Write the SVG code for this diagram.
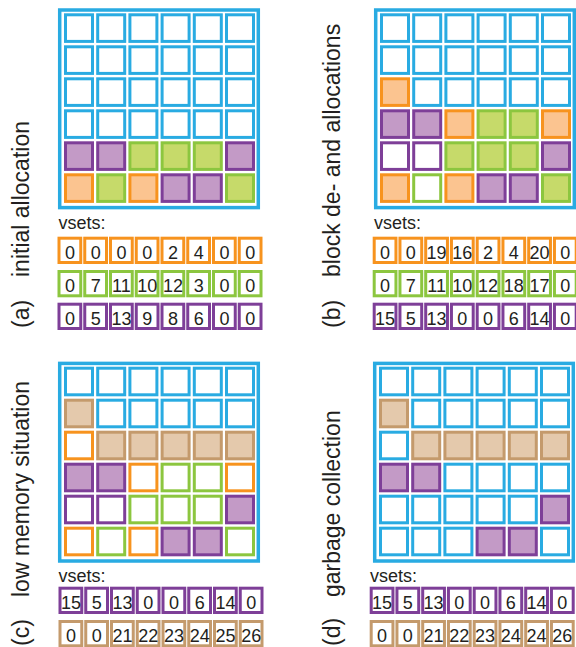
<svg xmlns="http://www.w3.org/2000/svg" width="576" height="647" viewBox="0 0 576 647">
<style>
rect{stroke-width:3}
.frame{fill:none;stroke:#29ABE2;stroke-width:3.5}
.bl{fill:#fff;stroke:#29ABE2}
.of{fill:#FBC490;stroke:#F7931E}
.oe{fill:#fff;stroke:#F7931E}
.gf{fill:#C6DA6A;stroke:#8CC63F}
.ge{fill:#fff;stroke:#8CC63F}
.pf{fill:#C39AC6;stroke:#7E3F98}
.pe{fill:#fff;stroke:#7E3F98}
.nf{fill:#E4C9AC;stroke:#C49A6C}
.ne{fill:#fff;stroke:#C49A6C}
text{font-family:"Liberation Sans",Arial,sans-serif;fill:#231F20}
.lab{font-size:23px}
.vs{font-size:18px}
.n{font-size:18px;text-anchor:middle}
</style>
<defs>
<rect id="c" width="27" height="26.6"/>
<rect id="v" width="21.75" height="24.3"/>
</defs>

<!-- Panel (a) -->
<g id="panel-a">
<text class="lab" transform="translate(28.5,328) rotate(-90)">(a)</text>
<text class="lab" transform="translate(28.5,277) rotate(-90)">initial allocation</text>
<g id="grid-a">
<rect class="frame" x="59.7" y="10" width="198.6" height="197.6"/>
<g transform="translate(0,14.8)"><use href="#c" x="65.5" class="bl"/><use href="#c" x="97.7" class="bl"/><use href="#c" x="129.9" class="bl"/><use href="#c" x="162.1" class="bl"/><use href="#c" x="194.3" class="bl"/><use href="#c" x="226.5" class="bl"/></g>
<g transform="translate(0,46.8)"><use href="#c" x="65.5" class="bl"/><use href="#c" x="97.7" class="bl"/><use href="#c" x="129.9" class="bl"/><use href="#c" x="162.1" class="bl"/><use href="#c" x="194.3" class="bl"/><use href="#c" x="226.5" class="bl"/></g>
<g transform="translate(0,78.8)"><use href="#c" x="65.5" class="bl"/><use href="#c" x="97.7" class="bl"/><use href="#c" x="129.9" class="bl"/><use href="#c" x="162.1" class="bl"/><use href="#c" x="194.3" class="bl"/><use href="#c" x="226.5" class="bl"/></g>
<g transform="translate(0,110.8)"><use href="#c" x="65.5" class="bl"/><use href="#c" x="97.7" class="bl"/><use href="#c" x="129.9" class="bl"/><use href="#c" x="162.1" class="bl"/><use href="#c" x="194.3" class="bl"/><use href="#c" x="226.5" class="bl"/></g>
<g transform="translate(0,142.8)"><use href="#c" x="65.5" class="pf"/><use href="#c" x="97.7" class="pf"/><use href="#c" x="129.9" class="gf"/><use href="#c" x="162.1" class="gf"/><use href="#c" x="194.3" class="gf"/><use href="#c" x="226.5" class="pf"/></g>
<g transform="translate(0,174.8)"><use href="#c" x="65.5" class="of"/><use href="#c" x="97.7" class="gf"/><use href="#c" x="129.9" class="of"/><use href="#c" x="162.1" class="pf"/><use href="#c" x="194.3" class="pf"/><use href="#c" x="226.5" class="gf"/></g>
</g>
<g id="vsets-a">
<text class="vs" x="58.5" y="228.5">vsets:</text>
<g transform="translate(57.5,236.7)"><use href="#v" x="1.5" y="1.5" class="oe"/><use href="#v" x="27.25" y="1.5" class="oe"/><use href="#v" x="53" y="1.5" class="oe"/><use href="#v" x="78.75" y="1.5" class="oe"/><use href="#v" x="104.5" y="1.5" class="oe"/><use href="#v" x="130.25" y="1.5" class="oe"/><use href="#v" x="156" y="1.5" class="oe"/><use href="#v" x="181.75" y="1.5" class="oe"/>
<text class="n" y="22"><tspan x="12.4">0</tspan><tspan x="38.15">0</tspan><tspan x="63.9">0</tspan><tspan x="89.65">0</tspan><tspan x="115.4">2</tspan><tspan x="141.15">4</tspan><tspan x="166.9">0</tspan><tspan x="192.65">0</tspan></text></g>
<g transform="translate(57.5,270)"><use href="#v" x="1.5" y="1.5" class="ge"/><use href="#v" x="27.25" y="1.5" class="ge"/><use href="#v" x="53" y="1.5" class="ge"/><use href="#v" x="78.75" y="1.5" class="ge"/><use href="#v" x="104.5" y="1.5" class="ge"/><use href="#v" x="130.25" y="1.5" class="ge"/><use href="#v" x="156" y="1.5" class="ge"/><use href="#v" x="181.75" y="1.5" class="ge"/>
<text class="n" y="22"><tspan x="12.4">0</tspan><tspan x="38.15">7</tspan><tspan x="63.9">11</tspan><tspan x="89.65">10</tspan><tspan x="115.4">12</tspan><tspan x="141.15">3</tspan><tspan x="166.9">0</tspan><tspan x="192.65">0</tspan></text></g>
<g transform="translate(57.5,302.7)"><use href="#v" x="1.5" y="1.5" class="pe"/><use href="#v" x="27.25" y="1.5" class="pe"/><use href="#v" x="53" y="1.5" class="pe"/><use href="#v" x="78.75" y="1.5" class="pe"/><use href="#v" x="104.5" y="1.5" class="pe"/><use href="#v" x="130.25" y="1.5" class="pe"/><use href="#v" x="156" y="1.5" class="pe"/><use href="#v" x="181.75" y="1.5" class="pe"/>
<text class="n" y="22"><tspan x="12.4">0</tspan><tspan x="38.15">5</tspan><tspan x="63.9">13</tspan><tspan x="89.65">9</tspan><tspan x="115.4">8</tspan><tspan x="141.15">6</tspan><tspan x="166.9">0</tspan><tspan x="192.65">0</tspan></text></g>
</g>
</g>

<!-- Panel (b) -->
<g id="panel-b">
<text class="lab" transform="translate(339.5,328) rotate(-90)">(b)</text>
<text class="lab" transform="translate(339.5,277) rotate(-90)">block de- and allocations</text>
<g id="grid-b" transform="translate(316,0)">
<rect class="frame" x="59.7" y="10" width="198.6" height="197.6"/>
<g transform="translate(0,14.8)"><use href="#c" x="65.5" class="bl"/><use href="#c" x="97.7" class="bl"/><use href="#c" x="129.9" class="bl"/><use href="#c" x="162.1" class="bl"/><use href="#c" x="194.3" class="bl"/><use href="#c" x="226.5" class="bl"/></g>
<g transform="translate(0,46.8)"><use href="#c" x="65.5" class="bl"/><use href="#c" x="97.7" class="bl"/><use href="#c" x="129.9" class="bl"/><use href="#c" x="162.1" class="bl"/><use href="#c" x="194.3" class="bl"/><use href="#c" x="226.5" class="bl"/></g>
<g transform="translate(0,78.8)"><use href="#c" x="65.5" class="of"/><use href="#c" x="97.7" class="bl"/><use href="#c" x="129.9" class="bl"/><use href="#c" x="162.1" class="bl"/><use href="#c" x="194.3" class="bl"/><use href="#c" x="226.5" class="bl"/></g>
<g transform="translate(0,110.8)"><use href="#c" x="65.5" class="pf"/><use href="#c" x="97.7" class="pf"/><use href="#c" x="129.9" class="of"/><use href="#c" x="162.1" class="gf"/><use href="#c" x="194.3" class="gf"/><use href="#c" x="226.5" class="of"/></g>
<g transform="translate(0,142.8)"><use href="#c" x="65.5" class="pe"/><use href="#c" x="97.7" class="pe"/><use href="#c" x="129.9" class="gf"/><use href="#c" x="162.1" class="gf"/><use href="#c" x="194.3" class="gf"/><use href="#c" x="226.5" class="pf"/></g>
<g transform="translate(0,174.8)"><use href="#c" x="65.5" class="of"/><use href="#c" x="97.7" class="ge"/><use href="#c" x="129.9" class="of"/><use href="#c" x="162.1" class="pf"/><use href="#c" x="194.3" class="pf"/><use href="#c" x="226.5" class="gf"/></g>
</g>
<g id="vsets-b">
<text class="vs" x="374" y="228.5">vsets:</text>
<g transform="translate(372.7,236.7)"><use href="#v" x="1.5" y="1.5" class="oe"/><use href="#v" x="27.25" y="1.5" class="oe"/><use href="#v" x="53" y="1.5" class="oe"/><use href="#v" x="78.75" y="1.5" class="oe"/><use href="#v" x="104.5" y="1.5" class="oe"/><use href="#v" x="130.25" y="1.5" class="oe"/><use href="#v" x="156" y="1.5" class="oe"/><use href="#v" x="181.75" y="1.5" class="oe"/>
<text class="n" y="22"><tspan x="12.4">0</tspan><tspan x="38.15">0</tspan><tspan x="63.9">19</tspan><tspan x="89.65">16</tspan><tspan x="115.4">2</tspan><tspan x="141.15">4</tspan><tspan x="166.9">20</tspan><tspan x="192.65">0</tspan></text></g>
<g transform="translate(372.7,270)"><use href="#v" x="1.5" y="1.5" class="ge"/><use href="#v" x="27.25" y="1.5" class="ge"/><use href="#v" x="53" y="1.5" class="ge"/><use href="#v" x="78.75" y="1.5" class="ge"/><use href="#v" x="104.5" y="1.5" class="ge"/><use href="#v" x="130.25" y="1.5" class="ge"/><use href="#v" x="156" y="1.5" class="ge"/><use href="#v" x="181.75" y="1.5" class="ge"/>
<text class="n" y="22"><tspan x="12.4">0</tspan><tspan x="38.15">7</tspan><tspan x="63.9">11</tspan><tspan x="89.65">10</tspan><tspan x="115.4">12</tspan><tspan x="141.15">18</tspan><tspan x="166.9">17</tspan><tspan x="192.65">0</tspan></text></g>
<g transform="translate(372.7,302.7)"><use href="#v" x="1.5" y="1.5" class="pe"/><use href="#v" x="27.25" y="1.5" class="pe"/><use href="#v" x="53" y="1.5" class="pe"/><use href="#v" x="78.75" y="1.5" class="pe"/><use href="#v" x="104.5" y="1.5" class="pe"/><use href="#v" x="130.25" y="1.5" class="pe"/><use href="#v" x="156" y="1.5" class="pe"/><use href="#v" x="181.75" y="1.5" class="pe"/>
<text class="n" y="22"><tspan x="12.4">15</tspan><tspan x="38.15">5</tspan><tspan x="63.9">13</tspan><tspan x="89.65">0</tspan><tspan x="115.4">0</tspan><tspan x="141.15">6</tspan><tspan x="166.9">14</tspan><tspan x="192.65">0</tspan></text></g>
</g>
</g>

<!-- Panel (c) -->
<g id="panel-c">
<text class="lab" transform="translate(28.5,646) rotate(-90)">(c)</text>
<text class="lab" transform="translate(28.5,597) rotate(-90)">low memory situation</text>
<g id="grid-c" transform="translate(0,353.4)">
<rect class="frame" x="59.7" y="10" width="198.6" height="197.6"/>
<g transform="translate(0,14.8)"><use href="#c" x="65.5" class="bl"/><use href="#c" x="97.7" class="bl"/><use href="#c" x="129.9" class="bl"/><use href="#c" x="162.1" class="bl"/><use href="#c" x="194.3" class="bl"/><use href="#c" x="226.5" class="bl"/></g>
<g transform="translate(0,46.8)"><use href="#c" x="65.5" class="nf"/><use href="#c" x="97.7" class="bl"/><use href="#c" x="129.9" class="bl"/><use href="#c" x="162.1" class="bl"/><use href="#c" x="194.3" class="bl"/><use href="#c" x="226.5" class="bl"/></g>
<g transform="translate(0,78.8)"><use href="#c" x="65.5" class="oe"/><use href="#c" x="97.7" class="nf"/><use href="#c" x="129.9" class="nf"/><use href="#c" x="162.1" class="nf"/><use href="#c" x="194.3" class="nf"/><use href="#c" x="226.5" class="nf"/></g>
<g transform="translate(0,110.8)"><use href="#c" x="65.5" class="pf"/><use href="#c" x="97.7" class="pf"/><use href="#c" x="129.9" class="oe"/><use href="#c" x="162.1" class="ge"/><use href="#c" x="194.3" class="ge"/><use href="#c" x="226.5" class="oe"/></g>
<g transform="translate(0,142.8)"><use href="#c" x="65.5" class="pe"/><use href="#c" x="97.7" class="pe"/><use href="#c" x="129.9" class="ge"/><use href="#c" x="162.1" class="ge"/><use href="#c" x="194.3" class="ge"/><use href="#c" x="226.5" class="pf"/></g>
<g transform="translate(0,174.8)"><use href="#c" x="65.5" class="oe"/><use href="#c" x="97.7" class="ge"/><use href="#c" x="129.9" class="oe"/><use href="#c" x="162.1" class="pf"/><use href="#c" x="194.3" class="pf"/><use href="#c" x="226.5" class="ge"/></g>
</g>
<g id="vsets-c">
<text class="vs" x="58.5" y="581.8">vsets:</text>
<g transform="translate(58.5,586.7)"><use href="#v" x="1.5" y="1.5" class="pe"/><use href="#v" x="27.25" y="1.5" class="pe"/><use href="#v" x="53" y="1.5" class="pe"/><use href="#v" x="78.75" y="1.5" class="pe"/><use href="#v" x="104.5" y="1.5" class="pe"/><use href="#v" x="130.25" y="1.5" class="pe"/><use href="#v" x="156" y="1.5" class="pe"/><use href="#v" x="181.75" y="1.5" class="pe"/>
<text class="n" y="22"><tspan x="12.4">15</tspan><tspan x="38.15">5</tspan><tspan x="63.9">13</tspan><tspan x="89.65">0</tspan><tspan x="115.4">0</tspan><tspan x="141.15">6</tspan><tspan x="166.9">14</tspan><tspan x="192.65">0</tspan></text></g>
<g transform="translate(58.5,620)"><use href="#v" x="1.5" y="1.5" class="ne"/><use href="#v" x="27.25" y="1.5" class="ne"/><use href="#v" x="53" y="1.5" class="ne"/><use href="#v" x="78.75" y="1.5" class="ne"/><use href="#v" x="104.5" y="1.5" class="ne"/><use href="#v" x="130.25" y="1.5" class="ne"/><use href="#v" x="156" y="1.5" class="ne"/><use href="#v" x="181.75" y="1.5" class="ne"/>
<text class="n" y="22"><tspan x="12.4">0</tspan><tspan x="38.15">0</tspan><tspan x="63.9">21</tspan><tspan x="89.65">22</tspan><tspan x="115.4">23</tspan><tspan x="141.15">24</tspan><tspan x="166.9">25</tspan><tspan x="192.65">26</tspan></text></g>
</g>
</g>

<!-- Panel (d) -->
<g id="panel-d">
<text class="lab" transform="translate(339.5,646) rotate(-90)">(d)</text>
<text class="lab" transform="translate(339.5,597) rotate(-90)">garbage collection</text>
<g id="grid-d" transform="translate(315,353.4)">
<rect class="frame" x="59.7" y="10" width="198.6" height="197.6"/>
<g transform="translate(0,14.8)"><use href="#c" x="65.5" class="bl"/><use href="#c" x="97.7" class="bl"/><use href="#c" x="129.9" class="bl"/><use href="#c" x="162.1" class="bl"/><use href="#c" x="194.3" class="bl"/><use href="#c" x="226.5" class="bl"/></g>
<g transform="translate(0,46.8)"><use href="#c" x="65.5" class="nf"/><use href="#c" x="97.7" class="bl"/><use href="#c" x="129.9" class="bl"/><use href="#c" x="162.1" class="bl"/><use href="#c" x="194.3" class="bl"/><use href="#c" x="226.5" class="bl"/></g>
<g transform="translate(0,78.8)"><use href="#c" x="65.5" class="bl"/><use href="#c" x="97.7" class="nf"/><use href="#c" x="129.9" class="nf"/><use href="#c" x="162.1" class="nf"/><use href="#c" x="194.3" class="nf"/><use href="#c" x="226.5" class="nf"/></g>
<g transform="translate(0,110.8)"><use href="#c" x="65.5" class="pf"/><use href="#c" x="97.7" class="pf"/><use href="#c" x="129.9" class="bl"/><use href="#c" x="162.1" class="bl"/><use href="#c" x="194.3" class="bl"/><use href="#c" x="226.5" class="bl"/></g>
<g transform="translate(0,142.8)"><use href="#c" x="65.5" class="bl"/><use href="#c" x="97.7" class="bl"/><use href="#c" x="129.9" class="bl"/><use href="#c" x="162.1" class="bl"/><use href="#c" x="194.3" class="bl"/><use href="#c" x="226.5" class="pf"/></g>
<g transform="translate(0,174.8)"><use href="#c" x="65.5" class="bl"/><use href="#c" x="97.7" class="bl"/><use href="#c" x="129.9" class="bl"/><use href="#c" x="162.1" class="pf"/><use href="#c" x="194.3" class="pf"/><use href="#c" x="226.5" class="bl"/></g>
</g>
<g id="vsets-d">
<text class="vs" x="370" y="581.8">vsets:</text>
<g transform="translate(369.7,586.7)"><use href="#v" x="1.5" y="1.5" class="pe"/><use href="#v" x="27.25" y="1.5" class="pe"/><use href="#v" x="53" y="1.5" class="pe"/><use href="#v" x="78.75" y="1.5" class="pe"/><use href="#v" x="104.5" y="1.5" class="pe"/><use href="#v" x="130.25" y="1.5" class="pe"/><use href="#v" x="156" y="1.5" class="pe"/><use href="#v" x="181.75" y="1.5" class="pe"/>
<text class="n" y="22"><tspan x="12.4">15</tspan><tspan x="38.15">5</tspan><tspan x="63.9">13</tspan><tspan x="89.65">0</tspan><tspan x="115.4">0</tspan><tspan x="141.15">6</tspan><tspan x="166.9">14</tspan><tspan x="192.65">0</tspan></text></g>
<g transform="translate(369.7,620)"><use href="#v" x="1.5" y="1.5" class="ne"/><use href="#v" x="27.25" y="1.5" class="ne"/><use href="#v" x="53" y="1.5" class="ne"/><use href="#v" x="78.75" y="1.5" class="ne"/><use href="#v" x="104.5" y="1.5" class="ne"/><use href="#v" x="130.25" y="1.5" class="ne"/><use href="#v" x="156" y="1.5" class="ne"/><use href="#v" x="181.75" y="1.5" class="ne"/>
<text class="n" y="22"><tspan x="12.4">0</tspan><tspan x="38.15">0</tspan><tspan x="63.9">21</tspan><tspan x="89.65">22</tspan><tspan x="115.4">23</tspan><tspan x="141.15">24</tspan><tspan x="166.9">24</tspan><tspan x="192.65">26</tspan></text></g>
</g>
</g>
</svg>
